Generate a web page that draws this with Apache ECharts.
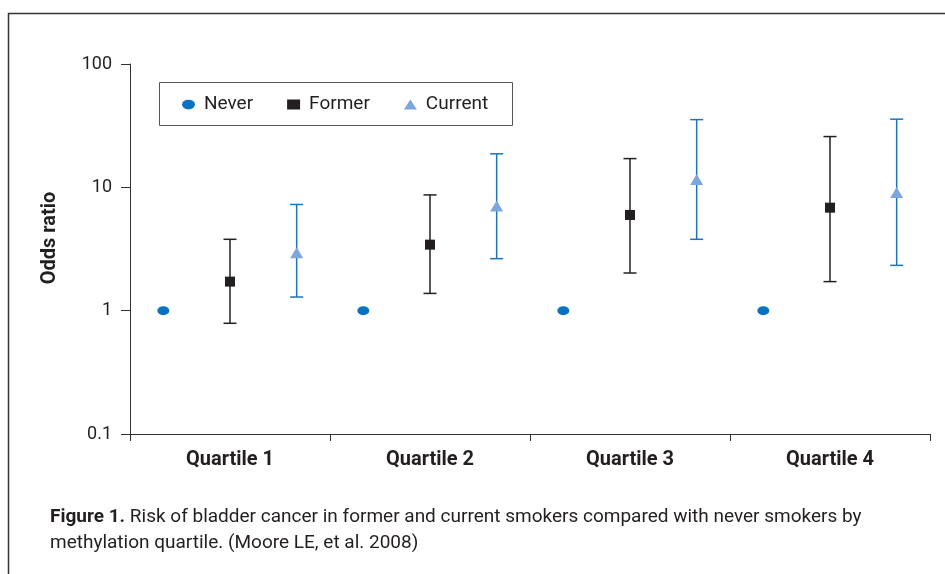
<!DOCTYPE html>
<html>
<head>
<meta charset="utf-8">
<script src="https://cdn.jsdelivr.net/npm/echarts@6/dist/echarts.min.js"></script>
<style>
  html, body { margin: 0; padding: 0; background: #ffffff; }
  #chart { width: 945px; height: 574px; }
</style>
</head>
<body>
<div id="chart"></div>
<script>
// Odds ratios (with 95% CI) of bladder cancer by methylation quartile
const quartiles = ['Quartile 1', 'Quartile 2', 'Quartile 3', 'Quartile 4'];
const groups = ['Never', 'Former', 'Current'];

const neverOR = [1, 1, 1, 1];

const formerOR = [1.72, 3.43, 5.97, 6.84];
const formerLow = [0.79, 1.38, 2.02, 1.72];
const formerHigh = [3.79, 8.68, 17.1, 25.8];

const currentOR = [2.95, 7.06, 11.6, 9.06];
const currentLow = [1.29, 2.64, 3.79, 2.33];
const currentHigh = [7.26, 18.7, 35.4, 35.7];

const yTicks = [0.1, 1, 10, 100];

// Each quartile is split into one slot per smoking group
const slots = [];
quartiles.forEach(q => groups.forEach(g => slots.push(q + ' ' + g)));
const slotOf = (qi, gi) => qi * groups.length + gi;

const pointData = (values, gi) => values.map((v, qi) => [slotOf(qi, gi), v]);
const ciData = (low, high, gi) => low.map((lo, qi) => [slotOf(qi, gi), lo, high[qi]]);

const FONT = 'Roboto, "Open Sans", sans-serif';
const INK = '#231f20';
const NEVER_COLOR = '#0a72c0';
const CURRENT_MARK = '#7ba7dc';
const CURRENT_BAR = '#1b75bb';
const ELLIPSE = 'path://M0,4.5A6,4.5 0 1 1 12,4.5A6,4.5 0 1 1 0,4.5Z';

function errorBars(color) {
  return function (params, api) {
    const x = api.value(0);
    const lo = api.coord([x, api.value(1)]);
    const hi = api.coord([x, api.value(2)]);
    const hw = 6.5;
    const style = { stroke: color, lineWidth: 1.5 };
    return {
      type: 'group',
      children: [
        { type: 'line', shape: { x1: lo[0], y1: lo[1], x2: hi[0], y2: hi[1] }, style },
        { type: 'line', shape: { x1: lo[0] - hw, y1: lo[1], x2: lo[0] + hw, y2: lo[1] }, style },
        { type: 'line', shape: { x1: hi[0] - hw, y1: hi[1], x2: hi[0] + hw, y2: hi[1] }, style }
      ]
    };
  };
}

const chart = echarts.init(document.getElementById('chart'), null, { renderer: 'canvas' });

chart.setOption({
  animation: false,
  backgroundColor: '#ffffff',
  grid: { left: 130, right: 15, top: 64, bottom: 140, containLabel: false },
  legend: {
    left: 182,
    top: 95,
    padding: 0,
    itemWidth: 13,
    itemHeight: 10,
    itemGap: 34,
    selectedMode: false,
    textStyle: { fontFamily: FONT, fontSize: 19, color: INK, padding: [0, 0, 0, 4] },
    data: [
      { name: 'Never', icon: ELLIPSE },
      { name: 'Former', icon: 'rect' },
      { name: 'Current', icon: 'triangle' }
    ]
  },
  xAxis: [
    {
      type: 'category',
      data: quartiles,
      boundaryGap: true,
      axisLine: { lineStyle: { color: '#333333', width: 1 } },
      axisTick: { show: true, length: 7, lineStyle: { color: '#333333' } },
      axisLabel: { margin: 16, fontFamily: FONT, fontWeight: 'bold', fontSize: 20, color: INK },
      splitLine: { show: false }
    },
    {
      type: 'category',
      data: slots,
      boundaryGap: true,
      show: false
    }
  ],
  yAxis: {
    type: 'log',
    logBase: 10,
    min: yTicks[0],
    max: yTicks[yTicks.length - 1],
    axisLine: { show: true, lineStyle: { color: '#333333', width: 1 } },
    axisTick: { show: true, length: 9, lineStyle: { color: '#333333' } },
    axisLabel: {
      margin: 18,
      fontFamily: FONT,
      fontSize: 18,
      color: INK,
      formatter: v => String(+v.toPrecision(3))
    },
    splitLine: { show: false }
  },
  series: [
    {
      name: 'Former CI',
      type: 'custom',
      xAxisIndex: 1,
      renderItem: errorBars(INK),
      encode: { x: 0, y: [1, 2] },
      data: ciData(formerLow, formerHigh, 1),
      z: 2
    },
    {
      name: 'Current CI',
      type: 'custom',
      xAxisIndex: 1,
      renderItem: errorBars(CURRENT_BAR),
      encode: { x: 0, y: [1, 2] },
      data: ciData(currentLow, currentHigh, 2),
      z: 2
    },
    {
      name: 'Never',
      type: 'scatter',
      xAxisIndex: 1,
      symbol: ELLIPSE,
      symbolSize: [12, 9],
      symbolKeepAspect: false,
      itemStyle: { color: NEVER_COLOR, opacity: 1 },
      data: pointData(neverOR, 0),
      z: 5
    },
    {
      name: 'Former',
      type: 'scatter',
      xAxisIndex: 1,
      symbol: 'rect',
      symbolSize: 10,
      itemStyle: { color: INK, opacity: 1 },
      data: pointData(formerOR, 1),
      z: 5
    },
    {
      name: 'Current',
      type: 'scatter',
      xAxisIndex: 1,
      symbol: 'triangle',
      symbolSize: [13, 11],
      itemStyle: { color: CURRENT_MARK, opacity: 1 },
      data: pointData(currentOR, 2),
      z: 5
    }
  ],
  graphic: [
    {
      // figure frame
      type: 'polyline',
      shape: { points: [[8.5, 574], [8.5, 13.5], [945, 13.5]] },
      style: { stroke: '#333333', lineWidth: 1.5, fill: null },
      silent: true
    },
    {
      // legend box
      type: 'rect',
      shape: { x: 159.5, y: 82.5, width: 353, height: 43 },
      style: { stroke: '#555555', lineWidth: 1, fill: null },
      silent: true,
      z: 1
    },
    {
      type: 'text',
      x: 50,
      y: 238,
      rotation: Math.PI / 2,
      style: {
        text: 'Odds ratio',
        fontFamily: FONT,
        fontWeight: 'bold',
        fontSize: 20,
        fill: INK,
        align: 'center',
        verticalAlign: 'middle'
      },
      silent: true
    },
    {
      type: 'text',
      left: 50,
      top: 504,
      style: {
        text: '{b|Figure 1.} Risk of bladder cancer in former and current smokers compared with never smokers by\nmethylation quartile. (Moore LE, et al. 2008)',
        fontFamily: FONT,
        fontSize: 19,
        lineHeight: 26,
        fill: INK,
        rich: {
          b: { fontFamily: FONT, fontWeight: 'bold', fontSize: 19, lineHeight: 26, fill: INK }
        }
      },
      silent: true
    }
  ]
});
</script>
</body>
</html>
